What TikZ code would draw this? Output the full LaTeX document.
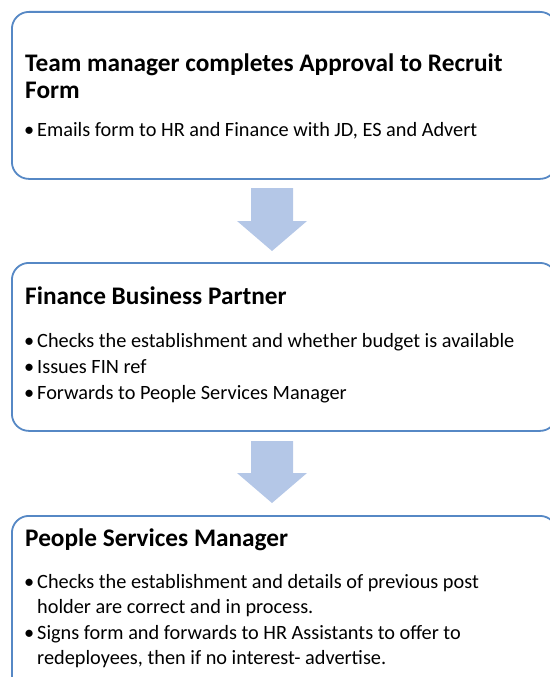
\documentclass[tikz,border=0pt]{standalone}
\usepackage{fontspec}
\setmainfont{Carlito}
\definecolor{boxline}{RGB}{86,136,197}
\definecolor{arrowfill}{RGB}{180,199,231}
\tikzset{
  box/.style={draw=boxline, line width=1.8bp, rounded corners=17bp, fill=white,
    anchor=north west, minimum width=545bp, inner sep=0},
  ttl/.style={anchor=base west, inner sep=0, font=\bfseries\fontsize{25.3bp}{30bp}\selectfont},
  bul/.style={anchor=base west, inner sep=0, font=\fontsize{20.3bp}{25bp}\selectfont},
  blockarrow/.style={fill=arrowfill, draw=none}
}
\begin{document}
\begin{tikzpicture}[x=1bp, y=-1bp]
\useasboundingbox (0,0) rectangle (550,677);
\clip (0,0) rectangle (550,677);
% boxes
\node[box, minimum height=167bp] (b1) at (11,11) {};
\node[box, minimum height=168bp] (b2) at (11,262) {};
\node[box, minimum height=180bp] (b3) at (11,515) {};
% block arrows
\draw[blockarrow] (251,188) -- (293,188) -- (293,221) -- (307,221) -- (272,251) -- (237,221) -- (251,221) -- cycle;
\draw[blockarrow] (251,441) -- (293,441) -- (293,473) -- (307,473) -- (272,503) -- (237,473) -- (251,473) -- cycle;
% box 1
\node[ttl] (t1a) at (25,72) {Team manager completes Approval to Recruit};
\node[ttl] (t1b) at (25,99) {Form};
\node[bul] (d1) at (24,136) {•};
\node[bul] (l1) at (37,136) {Emails form to HR and Finance with JD, ES and Advert};
% box 2
\node[ttl] (t2) at (25,304) {Finance Business Partner};
\node[bul] (d2a) at (24,347) {•};
\node[bul] (l2a) at (37,347) {Checks the establishment and whether budget is available};
\node[bul] (d2b) at (24,373) {•};
\node[bul] (l2b) at (37,373) {Issues FIN ref};
\node[bul] (d2c) at (24,399) {•};
\node[bul] (l2c) at (37,399) {Forwards to People Services Manager};
% box 3
\node[ttl] (t3) at (25,546) {People Services Manager};
\node[bul] (d3a) at (24,588) {•};
\node[bul] (l3a) at (37,588) {Checks the establishment and details of previous post};
\node[bul] (l3b) at (37,613) {holder are correct and in process.};
\node[bul] (d3b) at (24,639) {•};
\node[bul] (l3c) at (37,639) {Signs form and forwards to HR Assistants to offer to};
\node[bul] (l3d) at (37,664) {redeployees, then if no interest- advertise.};
\end{tikzpicture}
\end{document}
